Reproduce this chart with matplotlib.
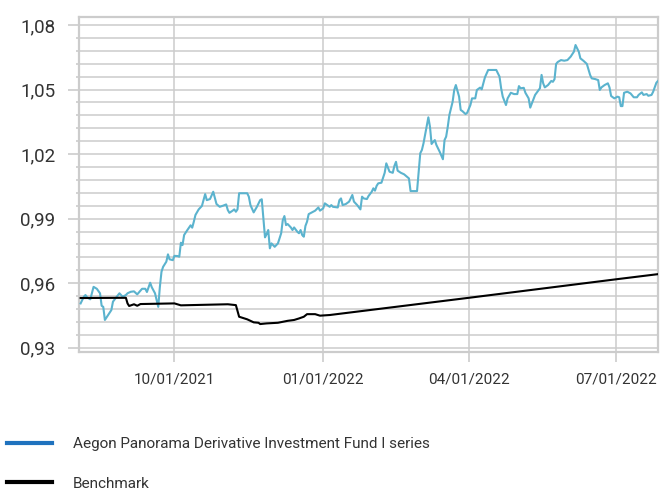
import matplotlib
matplotlib.use('Agg')
import matplotlib.pyplot as plt
import matplotlib.dates as mdates
from matplotlib.lines import Line2D
from matplotlib.ticker import FixedLocator, FuncFormatter
import numpy as np
import pandas as pd

plt.rcParams['font.family'] = ['Roboto', 'DejaVu Sans']

# ─── Data ───
fund_dates = [
    '2021-08-04', '2021-08-06', '2021-08-07', '2021-08-08', '2021-08-10', '2021-08-12',
    '2021-08-14', '2021-08-16', '2021-08-17', '2021-08-18', '2021-08-19', '2021-08-21',
    '2021-08-23', '2021-08-24', '2021-08-26', '2021-08-28', '2021-08-29', '2021-08-30',
    '2021-09-01', '2021-09-02', '2021-09-04', '2021-09-06', '2021-09-08', '2021-09-10',
    '2021-09-11', '2021-09-13', '2021-09-14', '2021-09-16', '2021-09-17', '2021-09-19',
    '2021-09-20', '2021-09-21', '2021-09-22', '2021-09-23', '2021-09-24', '2021-09-26',
    '2021-09-27', '2021-09-28', '2021-09-30', '2021-10-01', '2021-10-03', '2021-10-04',
    '2021-10-05', '2021-10-06', '2021-10-07', '2021-10-09', '2021-10-11', '2021-10-12',
    '2021-10-13', '2021-10-14', '2021-10-16', '2021-10-18', '2021-10-20', '2021-10-21',
    '2021-10-23', '2021-10-25', '2021-10-27', '2021-10-29', '2021-10-31', '2021-11-02',
    '2021-11-03', '2021-11-04', '2021-11-06', '2021-11-07', '2021-11-08', '2021-11-09',
    '2021-11-10', '2021-11-15', '2021-11-16', '2021-11-17', '2021-11-19', '2021-11-21',
    '2021-11-23', '2021-11-24', '2021-11-26', '2021-11-27', '2021-11-28', '2021-11-29',
    '2021-11-30', '2021-12-02', '2021-12-04', '2021-12-06', '2021-12-07', '2021-12-08',
    '2021-12-09', '2021-12-10', '2021-12-12', '2021-12-13', '2021-12-14', '2021-12-16',
    '2021-12-17', '2021-12-18', '2021-12-19', '2021-12-20', '2021-12-21', '2021-12-22',
    '2021-12-23', '2021-12-25', '2021-12-27', '2021-12-29', '2021-12-30', '2022-01-01',
    '2022-01-02', '2022-01-05', '2022-01-06', '2022-01-07', '2022-01-10', '2022-01-11',
    '2022-01-12', '2022-01-13', '2022-01-15', '2022-01-17', '2022-01-19', '2022-01-20',
    '2022-01-22', '2022-01-24', '2022-01-25', '2022-01-26', '2022-01-28', '2022-01-29',
    '2022-01-31', '2022-02-01', '2022-02-02', '2022-02-03', '2022-02-04', '2022-02-06',
    '2022-02-08', '2022-02-09', '2022-02-11', '2022-02-13', '2022-02-14', '2022-02-15',
    '2022-02-16', '2022-02-18', '2022-02-20', '2022-02-23', '2022-02-24', '2022-02-28',
    '2022-03-02', '2022-03-03', '2022-03-04', '2022-03-07', '2022-03-08', '2022-03-09',
    '2022-03-10', '2022-03-11', '2022-03-12', '2022-03-14', '2022-03-16', '2022-03-17',
    '2022-03-18', '2022-03-19', '2022-03-20', '2022-03-22', '2022-03-23', '2022-03-24',
    '2022-03-26', '2022-03-27', '2022-03-28', '2022-03-30', '2022-03-31', '2022-04-02',
    '2022-04-03', '2022-04-05', '2022-04-06', '2022-04-08', '2022-04-09', '2022-04-11',
    '2022-04-13', '2022-04-18', '2022-04-20', '2022-04-21', '2022-04-22', '2022-04-24',
    '2022-04-25', '2022-04-27', '2022-04-29', '2022-05-01', '2022-05-02', '2022-05-03',
    '2022-05-05', '2022-05-06', '2022-05-08', '2022-05-09', '2022-05-10', '2022-05-12',
    '2022-05-15', '2022-05-16', '2022-05-17', '2022-05-18', '2022-05-20', '2022-05-22',
    '2022-05-23', '2022-05-24', '2022-05-25', '2022-05-26', '2022-05-28', '2022-05-30',
    '2022-06-01', '2022-06-03', '2022-06-05', '2022-06-06', '2022-06-08', '2022-06-09',
    '2022-06-11', '2022-06-13', '2022-06-15', '2022-06-16', '2022-06-18', '2022-06-20',
    '2022-06-21', '2022-06-22', '2022-06-24', '2022-06-26', '2022-06-27', '2022-06-28',
    '2022-06-30', '2022-07-02', '2022-07-03', '2022-07-04', '2022-07-05', '2022-07-06',
    '2022-07-08', '2022-07-10', '2022-07-12', '2022-07-14', '2022-07-15', '2022-07-17',
    '2022-07-18', '2022-07-20', '2022-07-21', '2022-07-23', '2022-07-24', '2022-07-26',
    '2022-07-27',
]
fund_nav = [
    0.9506, 0.9537, 0.9545, 0.9534, 0.9525, 0.9583,
    0.9574, 0.9553, 0.9495, 0.9490, 0.9429, 0.9452,
    0.9475, 0.9514, 0.9534, 0.9553, 0.9545, 0.9537,
    0.9545, 0.9553, 0.9560, 0.9562, 0.9548, 0.9565,
    0.9574, 0.9574, 0.9559, 0.9602, 0.9581, 0.9553,
    0.9522, 0.9490, 0.9583, 0.9653, 0.9676, 0.9700,
    0.9734, 0.9711, 0.9707, 0.9727, 0.9726, 0.9723,
    0.9788, 0.9777, 0.9824, 0.9847, 0.9869, 0.9858,
    0.9886, 0.9917, 0.9943, 0.9959, 1.0014, 0.9986,
    0.9991, 1.0025, 0.9968, 0.9955, 0.9960, 0.9966,
    0.9940, 0.9927, 0.9937, 0.9943, 0.9932, 0.9943,
    1.0018, 1.0018, 1.0002, 0.9963, 0.9929, 0.9955,
    0.9986, 0.9990, 0.9813, 0.9828, 0.9847, 0.9762,
    0.9785, 0.9769, 0.9785, 0.9832, 0.9893, 0.9912,
    0.9870, 0.9875, 0.9859, 0.9847, 0.9859, 0.9839,
    0.9832, 0.9847, 0.9824, 0.9816, 0.9866, 0.9886,
    0.9921, 0.9929, 0.9937, 0.9952, 0.9937, 0.9948,
    0.9971, 0.9955, 0.9963, 0.9955, 0.9952, 0.9986,
    0.9994, 0.9963, 0.9968, 0.9979, 1.0010, 0.9979,
    0.9963, 0.9943, 1.0002, 0.9994, 0.9991, 1.0005,
    1.0025, 1.0041, 1.0030, 1.0052, 1.0064, 1.0067,
    1.0113, 1.0157, 1.0118, 1.0113, 1.0145, 1.0164,
    1.0123, 1.0113, 1.0106, 1.0087, 1.0028, 1.0028,
    1.0204, 1.0219, 1.0250, 1.0371, 1.0327, 1.0247,
    1.0257, 1.0265, 1.0242, 1.0211, 1.0176, 1.0265,
    1.0281, 1.0327, 1.0382, 1.0443, 1.0498, 1.0521,
    1.0467, 1.0405, 1.0400, 1.0386, 1.0392, 1.0428,
    1.0459, 1.0459, 1.0498, 1.0509, 1.0501, 1.0557,
    1.0591, 1.0591, 1.0560, 1.0506, 1.0467, 1.0428,
    1.0459, 1.0485, 1.0479, 1.0479, 1.0516, 1.0506,
    1.0508, 1.0485, 1.0459, 1.0416, 1.0436, 1.0475,
    1.0506, 1.0568, 1.0529, 1.0510, 1.0521, 1.0540,
    1.0536, 1.0548, 1.0619, 1.0628, 1.0637, 1.0634,
    1.0637, 1.0653, 1.0676, 1.0707, 1.0676, 1.0645,
    1.0633, 1.0619, 1.0568, 1.0552, 1.0549, 1.0544,
    1.0498, 1.0510, 1.0521, 1.0529, 1.0510, 1.0470,
    1.0459, 1.0467, 1.0464, 1.0423, 1.0423, 1.0485,
    1.0490, 1.0482, 1.0464, 1.0464, 1.0475, 1.0487,
    1.0475, 1.0479, 1.0471, 1.0475, 1.0490, 1.0532,
    1.0540,
]

bench_dates = [
    '2021-08-04', '2021-09-01', '2021-09-02', '2021-09-03', '2021-09-06', '2021-09-08',
    '2021-09-10', '2021-10-01', '2021-10-05', '2021-11-03', '2021-11-08', '2021-11-10',
    '2021-11-15', '2021-11-19', '2021-11-22', '2021-11-23', '2021-11-27', '2021-12-04',
    '2021-12-10', '2021-12-14', '2021-12-17', '2021-12-20', '2021-12-22', '2021-12-27',
    '2021-12-30', '2022-01-05', '2022-04-01', '2022-07-01', '2022-07-27',
]
bench_nav = [
    0.9531, 0.9532, 0.9506, 0.9494, 0.9502, 0.9495,
    0.9503, 0.9506, 0.9497, 0.9502, 0.9498, 0.9444,
    0.9432, 0.9418, 0.9416, 0.9410, 0.9413, 0.9416,
    0.9425, 0.9429, 0.9436, 0.9444, 0.9456, 0.9456,
    0.9449, 0.9452, 0.9532, 0.9618, 0.9642,
]

x_ticks = ['2021-10-01', '2022-01-01', '2022-04-01', '2022-07-01']
y_ticks = [0.93, 0.96, 0.99, 1.02, 1.05, 1.08]
y_minor = np.round(np.arange(0.93, 1.0801, 0.006), 3)

FUND_LABEL = 'Aegon Panorama Derivative Investment Fund I series'
BENCH_LABEL = 'Benchmark'
FUND_COLOR = '#5BB3CE'
FUND_LEGEND_COLOR = '#1F72BE'
GRID = '#CCCCCC'
TEXT = '#333333'

# ─── Figure ───
fig = plt.figure(figsize=(6.65, 4.94), dpi=100)
ax = fig.add_axes([0.1188, 0.2874, 0.8707, 0.6781])

ax.plot(pd.to_datetime(fund_dates), fund_nav, color=FUND_COLOR, linewidth=1.5, zorder=3)
ax.plot(pd.to_datetime(bench_dates), bench_nav, color='black', linewidth=1.5, zorder=3)

ax.set_xlim(pd.Timestamp('2021-08-03'), pd.Timestamp('2022-07-27'))
ax.set_ylim(0.928, 1.0837)

ax.xaxis.set_major_locator(FixedLocator(mdates.date2num(pd.to_datetime(x_ticks))))
ax.xaxis.set_major_formatter(mdates.DateFormatter('%m/%d/%Y'))
ax.yaxis.set_major_locator(FixedLocator(y_ticks))
ax.yaxis.set_minor_locator(FixedLocator(y_minor))
ax.yaxis.set_major_formatter(FuncFormatter(lambda v, p: f'{v:.2f}'.replace('.', ',')))

ax.grid(True, axis='y', which='both', color=GRID, linewidth=1.1, zorder=0)
ax.grid(True, axis='x', which='major', color=GRID, linewidth=1.1, zorder=0)
ax.set_axisbelow(True)

for s in ax.spines.values():
    s.set_color(GRID)
    s.set_linewidth(1.6)

ax.tick_params(axis='x', which='major', length=7, width=1.2, color=GRID,
               labelsize=11, labelcolor=TEXT, pad=8)
ax.tick_params(axis='y', which='major', length=8, width=1.2, color=GRID,
               labelsize=13.5, labelcolor=TEXT, pad=9)
ax.tick_params(axis='y', which='minor', length=2.5, width=1.2, color=GRID)

handles = [Line2D([], [], color=FUND_LEGEND_COLOR, linewidth=3),
           Line2D([], [], color='black', linewidth=3)]
fig.legend(handles, [FUND_LABEL, BENCH_LABEL], loc='upper left',
           bbox_to_anchor=(0.0105, 0.1145), frameon=False, fontsize=11,
           handlelength=2.95, handletextpad=1.35, labelspacing=1.65,
           borderpad=0, borderaxespad=0, labelcolor=TEXT)

plt.savefig('out.png', dpi=100)
plt.close()
